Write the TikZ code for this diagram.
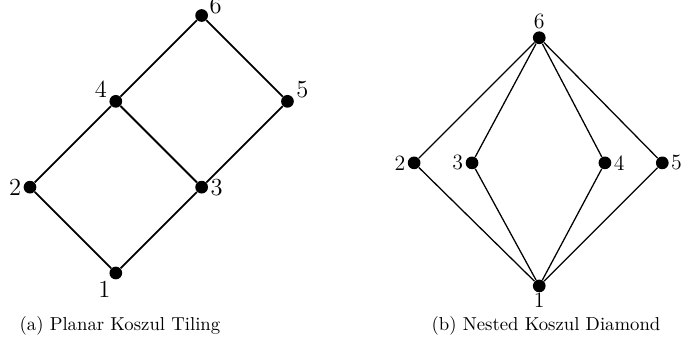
\documentclass[tikz,border=0pt]{standalone}
\usetikzlibrary{positioning}
\tikzset{
  dot/.style={circle, fill=black, inner sep=0pt, minimum size=7pt},
  edge/.style={draw=black, line width=#1},
  edge/.default=0.7pt,
  caption/.style={font=\fontsize{10.3}{12}\selectfont, anchor=base},
}
\begin{document}
\begin{tikzpicture}
  \useasboundingbox (0,0) rectangle (13.52,7.00);
  % (a) planar tiling
  \begin{scope}[every label/.style={font=\fontsize{13.5}{16}\selectfont, inner sep=1pt}]
    \node[dot, label=-120:1] (a1) at (2.24,1.72) {};
    \node[dot, label=180:2] (a2) at (0.58,3.38) {};
    \node[dot, label=-2:3] (a3) at (3.90,3.38) {};
    \node[dot, label=170:4] (a4) at (2.24,5.04) {};
    \node[dot, label=8:5] (a5) at (5.56,5.04) {};
    \node[dot, label={[inner sep=0.5pt]5:6}] (a6) at (3.90,6.70) {};
  \end{scope}
  \draw[edge=1pt] (a1) -- (a2) -- (a4) -- (a6) -- (a5) -- (a3) -- (a1);
  \draw[edge=1pt] (a3) -- (a4);
  \node[caption] (capa) at (2.32,0.60) {(a) Planar Koszul Tiling};
  % (b) nested diamond
  \begin{scope}[every label/.style={font=\fontsize{12}{14}\selectfont, inner sep=1pt}]
    \node[dot, label={[inner sep=0pt]below:1}] (b1) at (10.43,1.47) {};
    \node[dot, label=left:2] (b2) at (8.01,3.85) {};
    \node[dot, label=left:3] (b3) at (9.13,3.85) {};
    \node[dot, label=right:4] (b4) at (11.70,3.85) {};
    \node[dot, label=right:5] (b5) at (12.81,3.85) {};
    \node[dot, label=above:6] (b6) at (10.43,6.27) {};
  \end{scope}
  \foreach \m in {2,3,4,5}
    \draw[edge] (b1) -- (b\m) -- (b6);
  \node[caption] (capb) at (10.56,0.60) {(b) Nested Koszul Diamond};
\end{tikzpicture}
\end{document}
